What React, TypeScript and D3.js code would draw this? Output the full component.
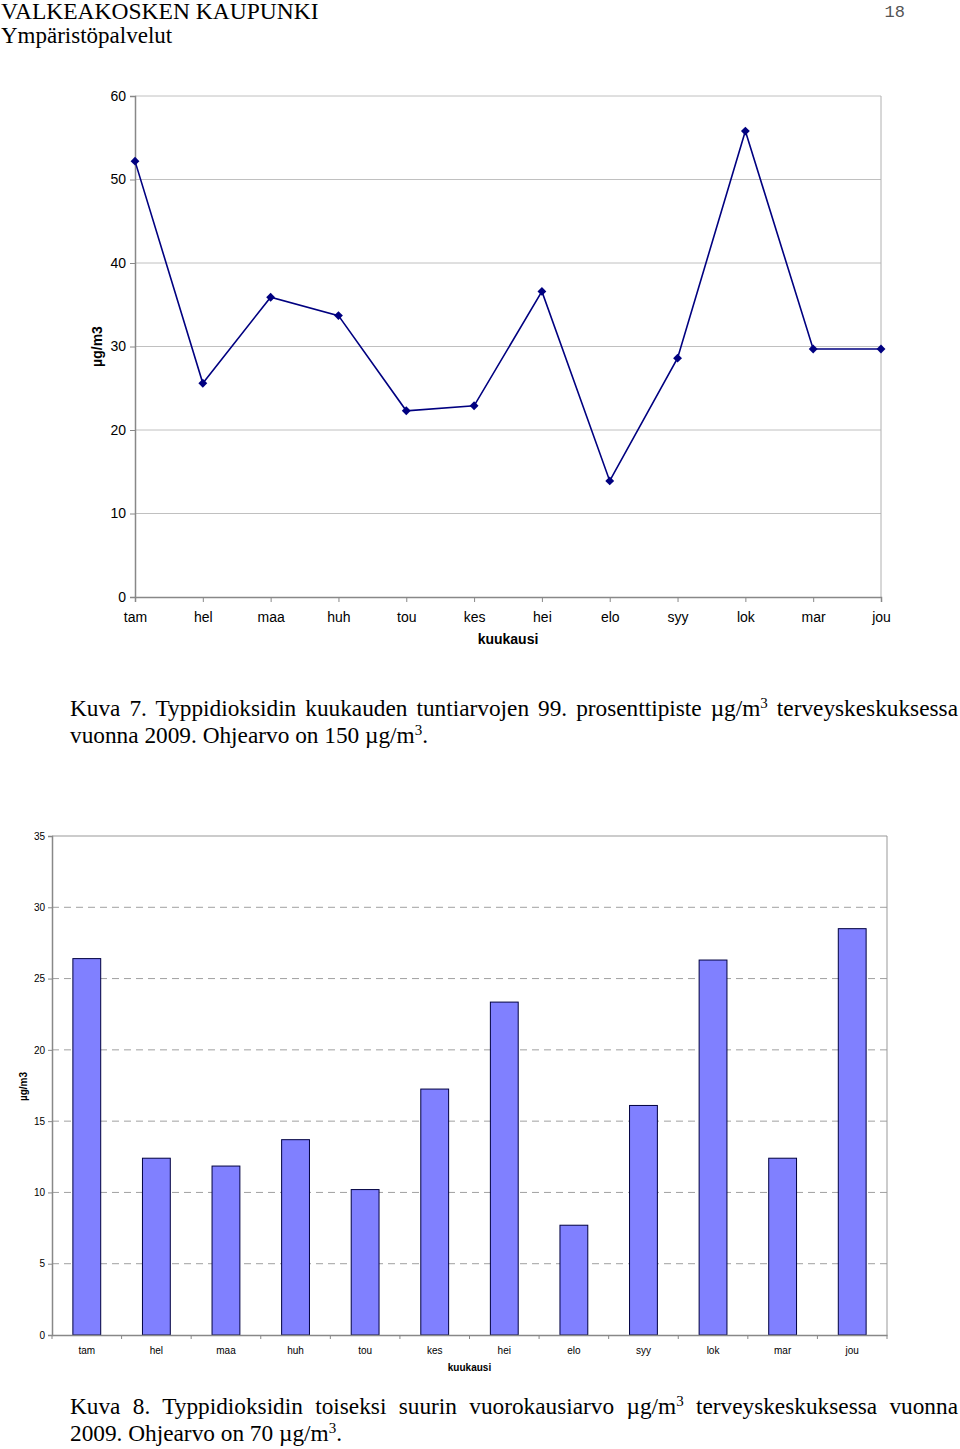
import React, { useEffect, useRef } from "react";
import * as d3 from "d3";

const months = ["tam", "hel", "maa", "huh", "tou", "kes", "hei", "elo", "syy", "lok", "mar", "jou"];
// Kuva 7: 99. prosenttipiste tuntiarvoista
const hourly99 = [52.2, 25.6, 35.9, 33.7, 22.3, 22.9, 36.6, 13.9, 28.6, 55.8, 29.7, 29.7];
// Kuva 8: toiseksi suurin vuorokausiarvo
const daily2nd = [26.4, 12.4, 11.85, 13.7, 10.2, 17.25, 23.35, 7.7, 16.1, 26.3, 12.4, 28.5];
const lineTicks = [0, 10, 20, 30, 40, 50, 60];
const barTicks = [0, 5, 10, 15, 20, 25, 30, 35];

const serif = "'Liberation Serif', 'Times New Roman', serif";
const sans = "'Liberation Sans', Arial, sans-serif";

export default function App() {
  const ref = useRef<SVGSVGElement>(null);

  useEffect(() => {
    if (!ref.current) return;
    const svg = d3.select(ref.current);
    svg.selectAll("*").remove();

    // header
    svg.append("text").attr("x", 1).attr("y", 19).attr("font-family", serif).attr("font-size", 23.5).text("VALKEAKOSKEN KAUPUNKI");
    svg.append("text").attr("x", 1).attr("y", 43).attr("font-family", serif).attr("font-size", 23).text("Ympäristöpalvelut");
    svg.append("text").attr("x", 905).attr("y", 17).attr("text-anchor", "end").attr("font-family", "'Liberation Mono', 'DejaVu Sans Mono', monospace").attr("font-size", 17).attr("fill", "#555").text("18");

    // ---- line chart ----
    const l = { left: 135, right: 881, top: 96, bottom: 597 };
    const x1 = d3.scalePoint<string>().domain(months).range([l.left, l.right]);
    const y1 = d3.scaleLinear().domain([0, 60]).range([l.bottom, l.top]);
    const g1 = svg.append("g");

    g1.selectAll(".grid").data(lineTicks.slice(1)).join("line")
      .attr("x1", l.left).attr("x2", l.right)
      .attr("y1", (d) => y1(d)).attr("y2", (d) => y1(d))
      .attr("stroke", "#c0c0c0").attr("stroke-width", 1);
    g1.append("line").attr("x1", l.right).attr("x2", l.right).attr("y1", l.top).attr("y2", l.bottom).attr("stroke", "#b0b0b0");

    const ya1 = g1.append("g").attr("transform", `translate(${l.left},0)`)
      .call(d3.axisLeft(y1).tickValues(lineTicks).tickSize(5).tickPadding(4));
    ya1.select(".domain").attr("stroke", "#888").attr("stroke-width", 1.5);
    ya1.selectAll(".tick line").attr("stroke", "#888");
    ya1.selectAll(".tick text").attr("font-family", sans).attr("font-size", 14).attr("fill", "#000");

    const xa1 = g1.append("g").attr("transform", `translate(0,${l.bottom})`)
      .call(d3.axisBottom(x1).tickSize(5).tickPadding(10));
    xa1.select(".domain").attr("stroke", "#888").attr("stroke-width", 1.5);
    xa1.selectAll(".tick line").attr("stroke", "#888");
    xa1.selectAll(".tick text").attr("font-family", sans).attr("font-size", 14).attr("fill", "#000");

    const line = d3.line<number>().x((_, i) => x1(months[i]) as number).y((d) => y1(d));
    g1.append("path").datum(hourly99).attr("d", line).attr("fill", "none").attr("stroke", "#000080").attr("stroke-width", 1.6);
    g1.selectAll(".pt").data(hourly99).join("path")
      .attr("d", d3.symbol(d3.symbolDiamond2, 50)())
      .attr("transform", (d, i) => `translate(${x1(months[i])},${y1(d)})`)
      .attr("fill", "#000080");

    g1.append("text").attr("transform", `translate(102,${(l.top + l.bottom) / 2}) rotate(-90)`)
      .attr("text-anchor", "middle").attr("font-family", sans).attr("font-size", 14).attr("font-weight", "bold").text("µg/m3");
    g1.append("text").attr("x", (l.left + l.right) / 2).attr("y", 644).attr("text-anchor", "middle")
      .attr("font-family", sans).attr("font-size", 14).attr("font-weight", "bold").text("kuukausi");

    // ---- bar chart ----
    const b = { left: 52, right: 887, top: 836, bottom: 1335 };
    const x2 = d3.scaleBand<string>().domain(months).range([b.left, b.right]).paddingInner(0.6).paddingOuter(0.3);
    const y2 = d3.scaleLinear().domain([0, 35]).range([b.bottom, b.top]);
    const g2 = svg.append("g");

    g2.selectAll(".grid").data(barTicks.slice(1, -1)).join("line")
      .attr("x1", b.left).attr("x2", b.right)
      .attr("y1", (d) => y2(d)).attr("y2", (d) => y2(d))
      .attr("stroke", "#a0a0a0").attr("stroke-width", 1).attr("stroke-dasharray", "7,5");
    g2.append("line").attr("x1", b.left).attr("x2", b.right).attr("y1", b.top).attr("y2", b.top).attr("stroke", "#999");
    g2.append("line").attr("x1", b.right).attr("x2", b.right).attr("y1", b.top).attr("y2", b.bottom).attr("stroke", "#999");

    g2.selectAll(".bar").data(daily2nd).join("rect")
      .attr("x", (_, i) => x2(months[i]) as number)
      .attr("y", (d) => y2(d))
      .attr("width", x2.bandwidth())
      .attr("height", (d) => b.bottom - y2(d))
      .attr("fill", "#8080ff").attr("stroke", "#000040").attr("stroke-width", 1);

    const ya2 = g2.append("g").attr("transform", `translate(${b.left},0)`)
      .call(d3.axisLeft(y2).tickValues(barTicks).tickSize(4).tickPadding(3));
    ya2.select(".domain").attr("stroke", "#888").attr("stroke-width", 1.5);
    ya2.selectAll(".tick line").attr("stroke", "#888");
    ya2.selectAll(".tick text").attr("font-family", sans).attr("font-size", 10).attr("fill", "#000");

    const xa2 = g2.append("g").attr("transform", `translate(0,${b.bottom})`)
      .call(d3.axisBottom(x2).tickSize(0).tickPadding(12));
    xa2.select(".domain").attr("stroke", "#888").attr("stroke-width", 1.5);
    xa2.selectAll(".tick text").attr("font-family", sans).attr("font-size", 10).attr("fill", "#000");
    // category boundary ticks
    const step = x2.step();
    g2.selectAll(".btick").data(d3.range(months.length + 1)).join("line")
      .attr("x1", (i) => b.left + i * step).attr("x2", (i) => b.left + i * step)
      .attr("y1", b.bottom).attr("y2", b.bottom + 4).attr("stroke", "#888");

    g2.append("text").attr("transform", `translate(27,${(b.top + b.bottom) / 2 + 1}) rotate(-90)`)
      .attr("text-anchor", "middle").attr("font-family", sans).attr("font-size", 10).attr("font-weight", "bold").text("µg/m3");
    g2.append("text").attr("x", (b.left + b.right) / 2).attr("y", 1371).attr("text-anchor", "middle")
      .attr("font-family", sans).attr("font-size", 10).attr("font-weight", "bold").text("kuukausi");

    // ---- captions (justified lines spread by word spacing) ----
    const caption = (y: number, parts: [string, boolean][], width?: number) => {
      const t = svg.append("text").attr("x", 70).attr("y", y).attr("font-family", serif).attr("font-size", 23.3);
      parts.forEach(([s, sup]) => {
        const ts = t.append("tspan").text(s);
        if (sup) ts.attr("font-size", 15).attr("baseline-shift", "super");
      });
      if (width) {
        const node = t.node() as SVGTextElement;
        const len = node.getComputedTextLength();
        const spaces = parts.map((p) => p[0]).join("").split(" ").length - 1;
        if (spaces > 0 && len < width) t.attr("word-spacing", (width - len) / spaces);
      }
    };
    caption(716, [["Kuva 7. Typpidioksidin kuukauden tuntiarvojen 99. prosenttipiste µg/m", false], ["3", true], [" terveyskeskuksessa", false]], 888);
    caption(743, [["vuonna 2009. Ohjearvo on 150 µg/m", false], ["3", true], [".", false]]);
    caption(1414, [["Kuva 8. Typpidioksidin toiseksi suurin vuorokausiarvo µg/m", false], ["3", true], [" terveyskeskuksessa vuonna", false]], 888);
    caption(1441, [["2009. Ohjearvo on 70 µg/m", false], ["3", true], [".", false]]);
  }, []);

  return (
    <svg ref={ref} width={960} height={1449}
      style={{ position: "absolute", left: 0, top: 0, background: "#fff" }} />
  );
}
